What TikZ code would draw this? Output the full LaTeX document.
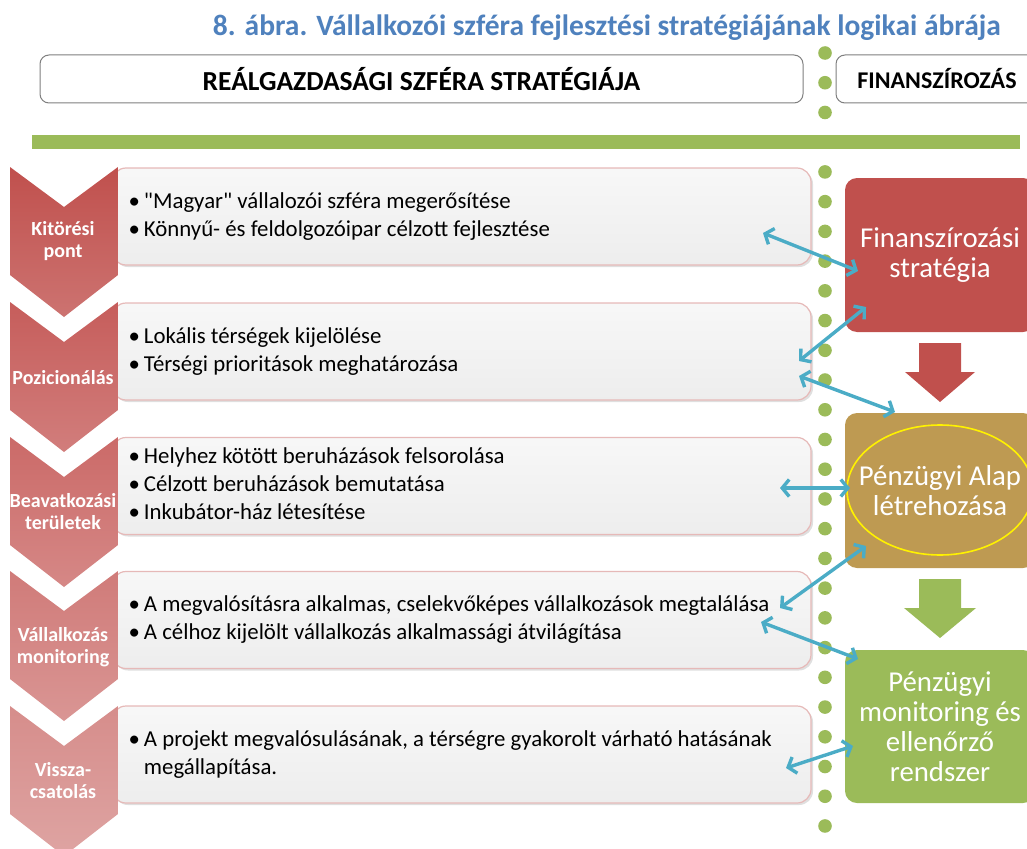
\documentclass[tikz,border=0pt]{standalone}
\usepackage{fontspec}
\setmainfont{Carlito}[Ligatures=TeXOff]
\usetikzlibrary{arrows.meta,shadows,calc}
\definecolor{titleblue}{HTML}{4F81BD}
\definecolor{dotgreen}{HTML}{9BBB59}
\definecolor{finred}{HTML}{C0504D}
\definecolor{alapgold}{HTML}{BE9A52}
\definecolor{arrowblue}{HTML}{4BACC6}
\definecolor{boxpink}{HTML}{E6B9B8}
\definecolor{hdrgray}{HTML}{7F7F7F}
\definecolor{chA}{HTML}{C0504D}
\definecolor{chB}{HTML}{C65D5B}
\definecolor{chC}{HTML}{CB6A68}
\definecolor{chD}{HTML}{D07B79}
\definecolor{chE}{HTML}{D68D8B}
\newcommand\mychev[2]{%
  \shade[top color=#2, bottom color=#2!80!white]
    (10,#1) -- (64,{#1+40}) -- (118,#1) -- (118,{#1+108}) -- (64,{#1+150}) -- (10,{#1+108}) -- cycle;}
\begin{document}
\begin{tikzpicture}[x=1pt,y=-1pt,
  hdr/.style={draw=hdrgray, line width=1pt, rounded corners=9pt, fill=white,
     minimum height=48pt, inner sep=0pt},
  txtbox/.style={draw=boxpink, line width=1.2pt, rounded corners=14pt,
     top color=white!97!black, bottom color=white!93!black, minimum width=699pt, minimum height=97pt,
     drop shadow={opacity=0.25,shadow xshift=2pt,shadow yshift=-2pt}},
  btext/.style={anchor=west, inner sep=0pt, font=\fontsize{22.8}{28}\selectfont},
  chlabel/.style={text=white, align=center, inner sep=0pt, font=\bfseries\fontsize{20}{22}\selectfont},
  rbox/.style={rounded corners=12pt, minimum width=190pt, text=white, align=center, inner sep=0pt,
     font=\fontsize{28.8}{30}\selectfont},
  dbl/.style={arrowblue, line width=3.4pt, {Straight Barb[length=7pt,width=17pt]}-{Straight Barb[length=7pt,width=17pt]}}
]
\useasboundingbox (0,0) rectangle (1027,848);
\clip (0,0) rectangle (1027,848);
% title
\node[anchor=east, text=titleblue, inner sep=0pt, font=\bfseries\fontsize{29.5}{33}\selectfont] (title) at (1001,28)
  {8. ábra. Vállalkozói szféra fejlesztési stratégiájának logikai ábrája};
% headers
\node[hdr, minimum width=763pt, font=\bfseries\fontsize{27.5}{30}\selectfont] (h1) at (421.5,79) {REÁLGAZDASÁGI SZFÉRA STRATÉGIÁJA};
\node[hdr, minimum width=202pt, font=\bfseries\fontsize{24}{28}\selectfont] (h2) at (937,79) {FINANSZÍROZÁS};
% dots
\foreach \i in {0,...,26} \fill[dotgreen] (825,{53+29.73*\i}) circle (6.8);
% bar
\fill[dotgreen] (32,135) rectangle (1020,149);
% text boxes
\node[txtbox] (b1) at (461.5,216.5) {};
\node[txtbox] (b2) at (461.5,351.5) {};
\node[txtbox] (b3) at (461.5,486) {};
\node[txtbox] (b4) at (461.5,620) {};
\node[txtbox] (b5) at (461.5,754.5) {};
% chevrons
\mychev{167}{chA}
\mychev{302}{chB}
\mychev{437}{chC}
\mychev{571}{chD}
\mychev{706}{chE}
\node[chlabel] (c1) at (63,241) {Kitörési\\pont};
\node[chlabel] (c2) at (63,378) {Pozicionálás};
\node[chlabel] (c3) at (63,512) {Beavatkozási\\területek};
\node[chlabel] (c4) at (63,647) {Vállalkozás\\monitoring};
\node[chlabel] (c5) at (63,781) {Vissza-\\csatolás};
% box texts
\node[btext] (t1) at ([xshift=17pt]b1.west) {\begin{tabular}{@{}l@{\hspace{4pt}}l@{}}
  •&"Magyar" vállalozói szféra megerősítése\\
  •&Könnyű- és feldolgozóipar célzott fejlesztése\end{tabular}};
\node[btext] (t2) at ([xshift=17pt]b2.west) {\begin{tabular}{@{}l@{\hspace{4pt}}l@{}}
  •&Lokális térségek kijelölése\\
  •&Térségi prioritások meghatározása\end{tabular}};
\node[btext] (t3) at ([xshift=17pt]b3.west) {\begin{tabular}{@{}l@{\hspace{4pt}}l@{}}
  •&Helyhez kötött beruházások felsorolása\\
  •&Célzott beruházások bemutatása\\
  •&Inkubátor-ház létesítése\end{tabular}};
\node[btext] (t4) at ([xshift=17pt]b4.west) {\begin{tabular}{@{}l@{\hspace{4pt}}l@{}}
  •&A megvalósításra alkalmas, cselekvőképes vállalkozások megtalálása\\
  •&A célhoz kijelölt vállalkozás alkalmassági átvilágítása\end{tabular}};
\node[btext] (t5) at ([xshift=17pt]b5.west) {\begin{tabular}{@{}l@{\hspace{4pt}}l@{}}
  •&A projekt megvalósulásának, a térségre gyakorolt várható hatásának\\
  &megállapítása.\end{tabular}};
% right boxes
\node[rbox, fill=finred, minimum height=154pt] (fin) at (940,255) {Finanszírozási\\stratégia};
\node[rbox, fill=alapgold, minimum height=155pt] (alap) at (940,490.5) {Pénzügyi Alap\\létrehozása};
\draw[yellow, line width=1.6pt] (940,490) ellipse [x radius=93, y radius=65];
\node[rbox, fill=dotgreen, minimum height=153pt] (mon) at (940,726.5) {Pénzügyi\\monitoring és\\ellenőrző\\rendszer};
% down arrows
\fill[finred] (919,343) -- (961,343) -- (961,372) -- (975,372) -- (940,402) -- (905,372) -- (919,372) -- cycle;
\fill[dotgreen] (919,579) -- (961,579) -- (961,608) -- (976,608) -- (940,638) -- (904,608) -- (919,608) -- cycle;
% blue connectors
\coordinate (a1s) at (763,233); \coordinate (a1e) at (858,271);
\coordinate (a2s) at (799,361); \coordinate (a2e) at (866,307);
\coordinate (a3s) at (799,376); \coordinate (a3e) at (895,412);
\coordinate (a4s) at (780,488); \coordinate (a4e) at (850,488);
\coordinate (a5s) at (780,608); \coordinate (a5e) at (866,546);
\coordinate (a6s) at (761,622); \coordinate (a6e) at (858,659);
\coordinate (a7s) at (786,768); \coordinate (a7e) at (853,746);
\draw[dbl] (a1s) -- (a1e);
\draw[dbl] (a2s) -- (a2e);
\draw[dbl] (a3s) -- (a3e);
\draw[dbl] (a4s) -- (a4e);
\draw[dbl] (a5s) -- (a5e);
\draw[dbl] (a6s) -- (a6e);
\draw[dbl] (a7s) -- (a7e);
\end{tikzpicture}
\end{document}
